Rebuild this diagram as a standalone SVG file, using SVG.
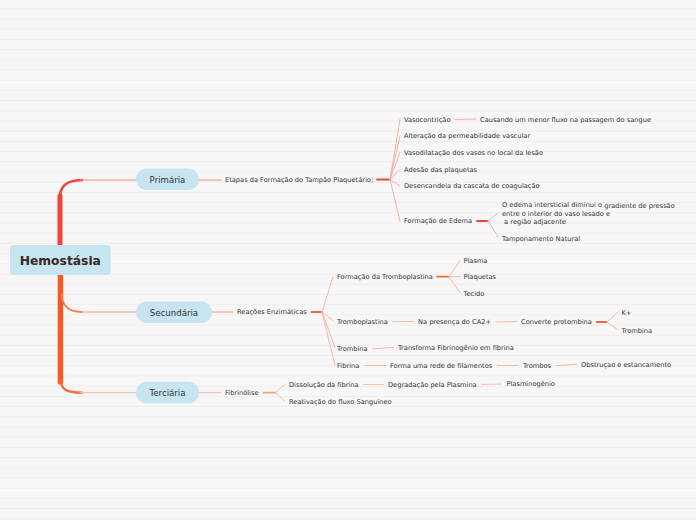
<svg xmlns="http://www.w3.org/2000/svg" width="696" height="520" viewBox="0 0 696 520">
<defs>
<pattern id="bg" x="0" y="8.3" width="696" height="10.2" patternUnits="userSpaceOnUse">
<rect width="696" height="10.2" fill="#f7f7f7"/>
<line x1="0" y1="0.5" x2="696" y2="0.5" stroke="#eeeeee" stroke-width="1"/>
</pattern>
</defs>
<style>
.t{font-family:"DejaVu Sans",Verdana,sans-serif;font-size:6.65px;fill:#333}
.m{font-family:"DejaVu Sans",Verdana,sans-serif;font-size:8.6px;fill:#333;text-anchor:middle}
.r{font-family:"DejaVu Sans",Verdana,sans-serif;font-size:12.3px;font-weight:bold;fill:#3a2a20;text-anchor:middle}
.pill{fill:#c6e5f0}
.c line,.c path{fill:none;stroke-linecap:round}
.p1{stroke:#f48a82;stroke-width:1}
.p2{stroke:#f0433a;stroke-width:1.8}
.p3{stroke:#f7a7a1;stroke-width:0.9}
.s1{stroke:#f5a07f;stroke-width:1}
.s2{stroke:#ee6a3c;stroke-width:1.8}
.s3{stroke:#f6b096;stroke-width:0.9}
.t1{stroke:#f7c3ae;stroke-width:1.2}
.t2{stroke:#f3a487;stroke-width:1.8}
.t3{stroke:#f7bba3;stroke-width:0.9}
</style>
<rect width="696" height="520" fill="url(#bg)"/>
<g id="connectors" class="c">
<path d="M60,246 V196" stroke="#f0443a" stroke-width="5"/>
<path d="M60,198 C60,186 66,180.5 82,180" stroke="#f0443a" stroke-width="2.6"/>
<line x1="80" y1="180" x2="136" y2="180" class="p1"/>
<path d="M60.5,274 V382" stroke="#f05a24" stroke-width="5.5"/>
<path d="M60.5,380 C61,389 66,392.7 82,392.7" stroke="#f26a33" stroke-width="2.4"/>
<line x1="80" y1="392.7" x2="136" y2="392.7" class="t1"/>
<path d="M61.5,294 C62,305 68,312 82,312" stroke="#f47c50" stroke-width="1.8"/>
<line x1="80" y1="312" x2="136" y2="312" class="s1"/>
<line x1="199" y1="180" x2="221" y2="180" class="p1"/>
<line x1="377" y1="179.5" x2="390" y2="179.5" class="p2"/>
<line x1="390" y1="179.5" x2="400" y2="119.3" class="p3"/>
<line x1="390" y1="179.5" x2="400" y2="136" class="p3"/>
<line x1="390" y1="179.5" x2="400" y2="152.5" class="p3"/>
<line x1="390" y1="179.5" x2="400" y2="169.5" class="p3"/>
<line x1="390" y1="179.5" x2="400" y2="186" class="p3"/>
<line x1="390" y1="179.5" x2="400" y2="221" class="p3"/>
<line x1="455" y1="119.5" x2="476" y2="119" class="p3"/>
<line x1="477" y1="221" x2="488" y2="221" class="p2" stroke-width="1.3"/>
<line x1="488" y1="221" x2="498" y2="212.8" class="p3"/>
<line x1="488" y1="221" x2="498" y2="236.8" class="p3"/>
<line x1="212" y1="312" x2="233" y2="312" class="s1"/>
<line x1="311.5" y1="312" x2="322" y2="312" class="s2"/>
<line x1="322" y1="312" x2="333" y2="276.7" class="s3"/>
<line x1="322" y1="312" x2="333" y2="320.5" class="s3"/>
<line x1="322" y1="312" x2="335" y2="347.5" class="s3"/>
<line x1="322" y1="312" x2="335" y2="365" class="s3"/>
<line x1="437" y1="276.7" x2="449" y2="276.7" class="s2"/>
<line x1="449" y1="276.7" x2="460" y2="260.5" class="s3"/>
<line x1="449" y1="276.7" x2="460" y2="276.7" class="s3"/>
<line x1="449" y1="276.7" x2="460" y2="293" class="s3"/>
<line x1="392.5" y1="321.8" x2="413.5" y2="321.5" class="s3"/>
<line x1="496" y1="322" x2="517" y2="321.5" class="s3"/>
<line x1="596.5" y1="322" x2="607" y2="322" class="s2" stroke-width="1.3"/>
<line x1="607" y1="322" x2="618" y2="312" class="s3"/>
<line x1="607" y1="322" x2="618" y2="330" class="s3"/>
<line x1="372.5" y1="348.8" x2="393.5" y2="347.5" class="s3"/>
<line x1="365" y1="365.5" x2="386" y2="365.5" class="s3"/>
<line x1="497.5" y1="365.5" x2="517.5" y2="365.5" class="s3"/>
<line x1="556" y1="365.7" x2="576.5" y2="364.2" class="s3"/>
<line x1="199" y1="392.7" x2="221" y2="392.7" class="t1"/>
<line x1="263.5" y1="392.7" x2="275.5" y2="392.7" class="t2"/>
<line x1="275.5" y1="392.7" x2="285" y2="384.3" class="t3"/>
<line x1="275.5" y1="392.7" x2="285" y2="401.3" class="t3"/>
<line x1="363.5" y1="384.5" x2="383.5" y2="384.5" class="t3"/>
<line x1="481.5" y1="384.5" x2="501.5" y2="384" class="t3"/>
</g>
<g id="root"><rect x="10" y="245" width="100.5" height="30" rx="3.5" class="pill"/><text x="60.3" y="264.5" class="r">Hemostásia</text></g>
<g id="primaria"><rect x="136" y="168.5" width="63" height="21.5" rx="10.75" class="pill"/><text x="167.5" y="182.8" class="m">Primária</text></g>
<g id="secundaria"><rect x="136" y="301.5" width="76" height="21.5" rx="10.75" class="pill"/><text x="174" y="315.8" class="m">Secundária</text></g>
<g id="terciaria"><rect x="136" y="381.8" width="63" height="21.5" rx="10.75" class="pill"/><text x="167.5" y="396.1" class="m">Terciária</text></g>
<g id="etapas"><text x="225" y="182" class="t">Etapas da Formação do Tampão Plaquetário;</text></g>
<g id="vasocontricao"><text x="404" y="121.7" class="t">Vasocontrição</text></g>
<g id="causando"><text x="480" y="121.7" class="t">Causando um menor fluxo na passagem do sangue</text></g>
<g id="alteracao"><text x="404" y="138.4" class="t">Alteração da permeabilidade vascular</text></g>
<g id="vasodilatacao"><text x="404" y="154.9" class="t">Vasodilatação dos vasos no local da lesão</text></g>
<g id="adesao"><text x="404" y="171.9" class="t">Adesão das plaquetas</text></g>
<g id="desencandeia"><text x="404" y="188.4" class="t">Desencandeia da cascata de coagulação</text></g>
<g id="edema"><text x="404" y="223.4" class="t">Formação de Edema</text></g>
<g id="edema-texto"><text x="502" y="207.2" class="t">O edema intersticial diminui o <tspan dy="1.2">gradiente de pressão</tspan></text><text x="502" y="215.9" class="t">entre o interior do vaso lesado e</text><text x="502" y="224.3" class="t" style="white-space:pre"> a região adjacente</text></g>
<g id="tamponamento"><text x="502" y="240.8" class="t">Tamponamento Natural</text></g>
<g id="reacoes"><text x="237" y="314.3" class="t">Reações Enzimáticas</text></g>
<g id="formacao-tromboplastina"><text x="337" y="278.9" class="t">Formação da Tromboplastina</text></g>
<g id="plasma"><text x="463.5" y="262.8" class="t">Plasma</text></g>
<g id="plaquetas"><text x="463.5" y="278.9" class="t">Plaquetas</text></g>
<g id="tecido"><text x="463.5" y="295.7" class="t">Tecido</text></g>
<g id="tromboplastina"><text x="337" y="324" class="t">Tromboplastina</text></g>
<g id="ca2"><text x="418" y="324" class="t">Na presença do CA2+</text></g>
<g id="converte"><text x="521" y="324" class="t">Converte protombina</text></g>
<g id="kplus"><text x="621.5" y="315.4" class="t">K+</text></g>
<g id="trombina2"><text x="621.5" y="332.5" class="t">Trombina</text></g>
<g id="trombina"><text x="337" y="350.7" class="t">Trombina</text></g>
<g id="transforma"><text x="398" y="349.9" class="t">Transforma Fibrinogênio em fibrina</text></g>
<g id="fibrina"><text x="337" y="367.9" class="t">Fibrina</text></g>
<g id="forma-rede"><text x="390" y="367.9" class="t">Forma uma rede de filamentos</text></g>
<g id="trombos"><text x="523" y="367.9" class="t">Trombos</text></g>
<g id="obstrucao"><text x="581" y="366.7" class="t">Obstruçao e estancamento</text></g>
<g id="fibrinolise"><text x="225" y="395.1" class="t">Fibrinólise</text></g>
<g id="dissolucao"><text x="289" y="386.7" class="t">Dissolução da fibrina</text></g>
<g id="degradacao"><text x="388" y="386.7" class="t">Degradação pela Plasmina</text></g>
<g id="plasminogenio"><text x="506.5" y="386.4" class="t">Plasminogênio</text></g>
<g id="reativacao"><text x="289" y="403.7" class="t">Reativação do fluxo Sanguíneo</text></g>
</svg>
